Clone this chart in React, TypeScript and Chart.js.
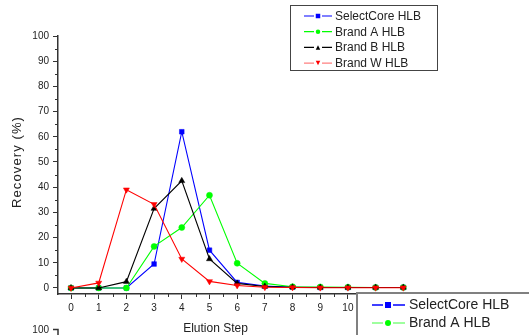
import React, { useEffect, useRef } from 'react';
import { Chart, registerables } from 'chart.js';

Chart.register(...registerables);

const steps = [0, 1, 2, 3, 4, 5, 6, 7, 8, 9, 10, 11, 12];
const selectCore = [0, 0, 0, 9.5, 62, 15, 2.2, 0.8, 0.3, 0.2, 0.2, 0.2, 0.2];
const brandA = [0, 0, 0, 16.5, 24, 36.8, 9.8, 1.8, 0.5, 0.4, 0.3, 0.2, 0.2];
const brandB = [0, 0, 2.5, 31.5, 42.5, 11.5, 1.8, 0.6, 0.3, 0.2, 0.2, 0.2, 0.2];
const brandW = [0, 2, 39, 33.2, 11.5, 2.6, 1, 0.3, 0.2, 0.1, 0.1, 0.1, 0.1];
const seriesNames = ['SelectCore HLB', 'Brand A HLB', 'Brand B HLB', 'Brand W HLB'];
const seriesColors = ['#0000ff', '#00ff00', '#000000', '#ff0000'];
const legendLineColors = ['#0000ff', '#00ff00', '#000000', '#ff8080'];
const lowerLegendLineColors = ['#0000ff', '#80ff80'];
const markerKinds = ['square', 'circle', 'up', 'down'];
const yTitle = 'Recovery (%)';
const xTitle = 'Elution Step';
const lowerChartTopLabel = '100';

const FONT = '"Liberation Sans", Arial, sans-serif';

function drawMarker(ctx: CanvasRenderingContext2D, kind: string, x: number, y: number, s: number, color: string) {
  ctx.fillStyle = color;
  ctx.beginPath();
  if (kind === 'square') {
    ctx.rect(x - s / 2, y - s / 2, s, s);
  } else if (kind === 'circle') {
    ctx.arc(x, y, s / 2, 0, Math.PI * 2);
  } else if (kind === 'up') {
    ctx.moveTo(x, y - s / 2);
    ctx.lineTo(x + s / 2, y + s / 2);
    ctx.lineTo(x - s / 2, y + s / 2);
    ctx.closePath();
  } else {
    ctx.moveTo(x, y + s / 2);
    ctx.lineTo(x + s / 2, y - s / 2);
    ctx.lineTo(x - s / 2, y - s / 2);
    ctx.closePath();
  }
  ctx.fill();
}

function sampleLine(ctx: CanvasRenderingContext2D, x0: number, x1: number, cx: number, gap: number, y: number) {
  ctx.beginPath();
  ctx.moveTo(x0, y);
  ctx.lineTo(cx - gap, y);
  ctx.moveTo(cx + gap, y);
  ctx.lineTo(x1, y);
  ctx.stroke();
}

const decorPlugin = {
  id: 'decor',
  afterDraw(chart: any) {
    const ctx: CanvasRenderingContext2D = chart.ctx;
    const xs = chart.scales.x;
    const ys = chart.scales.y;
    const area = chart.chartArea;
    ctx.save();
    // minor ticks
    ctx.strokeStyle = '#333';
    ctx.lineWidth = 1;
    ys.ticks.forEach((t: any) => {
      if (t.value % 10 !== 0) {
        const py = Math.round(ys.getPixelForValue(t.value)) + 0.5;
        ctx.beginPath();
        ctx.moveTo(area.left - 3, py);
        ctx.lineTo(area.left, py);
        ctx.stroke();
      }
    });
    xs.ticks.forEach((t: any) => {
      if (!Number.isInteger(t.value)) {
        const px = Math.round(xs.getPixelForValue(t.value)) + 0.5;
        ctx.beginPath();
        ctx.moveTo(px, area.bottom);
        ctx.lineTo(px, area.bottom + 3);
        ctx.stroke();
      }
    });

    // y title
    ctx.save();
    ctx.translate(17.5, 162);
    ctx.rotate(-Math.PI / 2);
    ctx.font = `13px ${FONT}`;
    (ctx as any).letterSpacing = '1.1px';
    ctx.fillStyle = '#222';
    ctx.textAlign = 'center';
    ctx.textBaseline = 'middle';
    ctx.fillText(yTitle, 0, 0);
    ctx.restore();

    // x title
    ctx.font = `12px ${FONT}`;
    ctx.fillStyle = '#222';
    ctx.textAlign = 'center';
    ctx.textBaseline = 'alphabetic';
    ctx.fillText(xTitle, 215.5, 332);

    // lower chart fragment
    ctx.font = `10px ${FONT}`;
    ctx.textAlign = 'right';
    ctx.textBaseline = 'middle';
    ctx.fillText(lowerChartTopLabel, 49, 330);
    ctx.strokeStyle = '#333';
    ctx.lineWidth = 1.5;
    ctx.beginPath();
    ctx.moveTo(53, 329.5);
    ctx.lineTo(58, 329.5);
    ctx.lineTo(58, 336);
    ctx.stroke();

    // legend 1
    ctx.fillStyle = '#fff';
    ctx.fillRect(290.5, 5.5, 147, 65);
    ctx.strokeStyle = '#444';
    ctx.lineWidth = 1;
    ctx.strokeRect(290.5, 5.5, 147, 65);
    ctx.font = `12px ${FONT}`;
    ctx.textAlign = 'left';
    ctx.textBaseline = 'middle';
    seriesNames.forEach((name, i) => {
      const cy = 16 + i * 15.7;
      ctx.strokeStyle = legendLineColors[i];
      ctx.lineWidth = 1.2;
      sampleLine(ctx, 304, 332, 318, 4, cy);
      drawMarker(ctx, markerKinds[i], 318, cy, 4.5, seriesColors[i]);
      ctx.fillStyle = '#222';
      ctx.fillText(name, 335, cy + 0.5);
    });

    // legend 2 (lower box, partially visible)
    ctx.fillStyle = '#fff';
    ctx.fillRect(356, 292, 200, 60);
    ctx.strokeStyle = '#808080';
    ctx.lineWidth = 2;
    ctx.strokeRect(357, 293, 200, 60);
    ctx.font = `14px ${FONT}`;
    for (let i = 0; i < 2; i++) {
      const cy = 305 + i * 18;
      ctx.strokeStyle = lowerLegendLineColors[i];
      ctx.lineWidth = 1.6;
      sampleLine(ctx, 372, 405, 388, 5, cy);
      drawMarker(ctx, markerKinds[i], 388, cy, 6, seriesColors[i]);
      ctx.fillStyle = '#222';
      ctx.fillText(seriesNames[i], 409, cy + 0.5);
    }
    ctx.restore();
  },
};

export default function App() {
  const ref = useRef<HTMLCanvasElement | null>(null);
  useEffect(() => {
    if (!ref.current) return;
    const all = [selectCore, brandA, brandB, brandW];
    const styles = ['rect', 'circle', 'triangle', 'triangle'];
    const radii = [3.3, 3, 3.5, 3.5];
    const orders = [4, 3, 2, 1];
    const chart = new Chart(ref.current, {
      type: 'line',
      data: {
        datasets: all.map((vals, i) => ({
          label: seriesNames[i],
          data: steps.map((s, j) => ({ x: s, y: vals[j] })),
          borderColor: seriesColors[i],
          backgroundColor: seriesColors[i],
          pointBackgroundColor: seriesColors[i],
          pointBorderColor: seriesColors[i],
          pointStyle: styles[i] as any,
          pointRotation: i === 3 ? 180 : 0,
          pointRadius: radii[i],
          pointBorderWidth: 0.5,
          borderWidth: 1.1,
          tension: 0,
          order: orders[i],
          fill: false,
        })),
      },
      options: {
        animation: false,
        responsive: false,
        layout: { padding: { left: 0, top: 36, right: 98, bottom: 0 } },
        plugins: { legend: { display: false }, tooltip: { enabled: false } },
        scales: {
          x: {
            type: 'linear',
            min: -0.47,
            max: 13,
            afterFit: (s: any) => { s.height = 41; },
            ticks: {
              stepSize: 0.5,
              includeBounds: false,
              autoSkip: false,
              maxRotation: 0,
              padding: 3,
              color: '#222',
              font: { family: FONT, size: 10 },
              callback: (v: any) => (Number.isInteger(v) ? String(v) : ''),
            },
            grid: {
              drawOnChartArea: false,
              drawTicks: true,
              tickLength: 5,
              tickWidth: 1,
              tickColor: (c: any) => (c.tick && Number.isInteger(c.tick.value) ? '#333' : 'rgba(0,0,0,0)'),
            },
            border: { display: true, color: '#333', width: 1.5 },
          },
          y: {
            type: 'linear',
            min: -2.4,
            max: 100,
            afterFit: (s: any) => { s.width = 58; },
            ticks: {
              stepSize: 5,
              includeBounds: false,
              autoSkip: false,
              padding: 4,
              color: '#222',
              font: { family: FONT, size: 10 },
              callback: (v: any) => (v % 10 === 0 ? String(v) : ''),
            },
            grid: {
              drawOnChartArea: false,
              drawTicks: true,
              tickLength: 5,
              tickWidth: 1,
              tickColor: (c: any) => (c.tick && c.tick.value % 10 === 0 ? '#333' : 'rgba(0,0,0,0)'),
            },
            border: { display: true, color: '#333', width: 1.5 },
          },
        },
      },
      plugins: [decorPlugin],
    });
    return () => chart.destroy();
  }, []);
  return (
    <div style={{ position: 'fixed', left: 0, top: 0, width: 529, height: 335, background: '#fff' }}>
      <canvas ref={ref} width={529} height={335} style={{ display: 'block', width: 529, height: 335 }} />
    </div>
  );
}
